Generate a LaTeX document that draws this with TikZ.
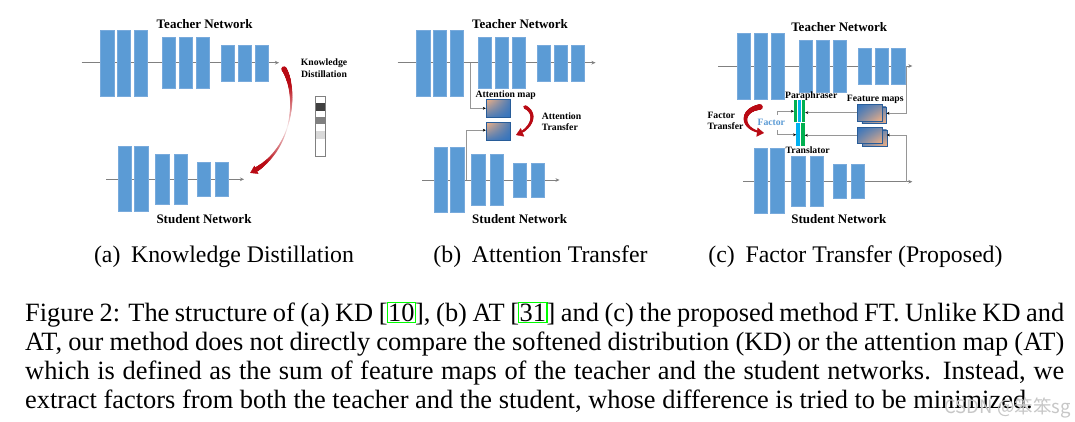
\documentclass[tikz,border=0pt]{standalone}
\usepackage{fontspec}
\setmainfont{Liberation Serif}
\newfontfamily\cjkfont{Noto Sans CJK SC}
\usetikzlibrary{arrows.meta,decorations.markings,shadings}
\definecolor{blockblue}{RGB}{91,155,213}
\definecolor{blockedge}{RGB}{120,170,220}
\definecolor{linegray}{RGB}{128,128,128}
\definecolor{branchgray}{RGB}{150,150,150}
\definecolor{arrowred}{RGB}{185,10,20}
\definecolor{peach}{RGB}{244,177,131}
\definecolor{mapblue}{RGB}{50,115,190}
\definecolor{fgreen}{RGB}{0,176,80}
\definecolor{fblue}{RGB}{0,176,240}
\definecolor{factorblue}{RGB}{91,155,213}
\definecolor{linkgreen}{RGB}{0,255,0}
\newcommand\gb[1]{{\setlength\fboxsep{0.3pt}\setlength\fboxrule{1.1pt}\color{linkgreen}\kern-0.8pt\fbox{\color{black}#1}\kern-0.8pt}}
\newcommand\teacherblocks[3]{%
 \begin{scope}[shift={(#2,#3)}]
 \foreach \x [count=\i] in {107.3,124,141}{\node[blk,minimum height=66pt] (#1x\i) at (\x,63.3) {};}
 \foreach \x [count=\i] in {168.8,185.8,202.8}{\node[blk,minimum height=51.7pt] (#1y\i) at (\x,62.85) {};}
 \foreach \x [count=\i] in {227.8,245,261.7}{\node[blk,minimum height=35.7pt] (#1z\i) at (\x,63.15) {};}
 \end{scope}}
\newcommand\studentblocks[3]{%
 \begin{scope}[shift={(#2,#3)}]
 \foreach \x [count=\i] in {124.8,141.3}{\node[blk,minimum height=64.6pt] (#1x\i) at (\x,179) {};}
 \foreach \x [count=\i] in {162.2,180.5}{\node[blk,minimum height=50.3pt] (#1y\i) at (\x,179.15) {};}
 \foreach \x [count=\i] in {203.8,221.8}{\node[blk,minimum height=34.4pt] (#1z\i) at (\x,179.5) {};}
 \end{scope}}
% tapered red arrow: #1 radius expr (in \ts, \tu), #2 percent expr, #3 end fraction, #4 path
\newcommand\taperarrow[4]{%
 \path[decoration={markings,
   mark=between positions 0 and #3 step 0.4pt with {%
     \pgfmathsetmacro\ts{\pgfkeysvalueof{/pgf/decoration/mark info/distance from start}/\pgfdecoratedpathlength}%
     \pgfmathsetmacro\tu{abs(2*\ts-1)}%
     \pgfmathsetmacro\tr{#1}%
     \pgfmathsetmacro\tp{#2}%
     \fill[arrowred!\tp!white] (0,0) circle (\tr pt);},
   mark=at position 1 with {\arrow[arrowred]{Triangle[width=9pt,length=7pt]}}},
   postaction={decorate}] #4;}
\tikzset{
 blk/.style={draw=blockedge, fill=blockblue, line width=0.5pt, inner sep=0pt, minimum width=13.3pt},
 netline/.style={draw=linegray, line width=0.8pt, -{Stealth[length=4pt,width=3.6pt]}},
 branch/.style={draw=branchgray, line width=0.6pt, -{Stealth[length=3pt,width=2.8pt,black]}},
 title/.style={font=\fontsize{13}{15}\selectfont\bfseries, inner sep=0pt, anchor=base},
 lbl/.style={font=\fontsize{9.7}{11.5}\selectfont\bfseries, inner sep=0pt, anchor=base},
 amap/.style={draw=mapblue!80!black, line width=0.4pt, inner sep=0pt, minimum width=24pt, minimum height=18pt,
   upper left=peach, upper right=mapblue!85!peach, lower left=mapblue!85!peach, lower right=mapblue},
 fmap/.style={draw=mapblue!80!black, line width=0.4pt, inner sep=0pt, minimum width=24.4pt, minimum height=16.5pt,
   upper left=mapblue, upper right=mapblue!65!peach, lower left=mapblue!65!peach, lower right=peach},
 subcap/.style={font=\fontsize{23.8}{28}\selectfont, inner sep=0pt, anchor=base},
 capline/.style={font=\fontsize{26.4}{29}\selectfont, inner sep=0pt, anchor=base west},
}
\begin{document}
\begin{tikzpicture}[x=1pt,y=-1pt]
\useasboundingbox (0,0) rectangle (1075,422);
\fill[white] (0,0) rectangle (1075,422);

% ================= panel (a) =================
\coordinate (aTin) at (81.7,62.7); \coordinate (aTout) at (279,62.7);
\draw[netline] (aTin) -- (aTout);
\teacherblocks{aT}{0}{0}
\coordinate (aSin) at (106,179.3); \coordinate (aSout) at (244,179.3);
\draw[netline] (aSin) -- (aSout);
\studentblocks{aS}{0}{0}
\node[title] (aTt) at (204.7,28.3) {Teacher Network};
\node[title] (aSt) at (204,223.3) {Student Network};
\node[lbl] (kd1) at (324,65.7) {Knowledge};
\node[lbl] (kd2) at (324,77.3) {Distillation};
% softened distribution
\node[draw=linegray, fill=white, line width=0.6pt, minimum width=10.4pt, minimum height=60pt, inner sep=0pt] (dist) at (320.5,126.3) {};
\fill[black!75] (315.6,103.3) rectangle (325.4,111);
\fill[black!50] (315.6,116.7) rectangle (325.4,124.3);
\fill[black!15] (315.6,131) rectangle (325.4,138.7);
\coordinate (aR1) at (284,69); \coordinate (aR2) at (250,173);
\taperarrow{0.35+2.3*pow(\tu,1.3)}{min(100,8+130*\tu)}{0.94}{(aR1) .. controls (297,90) and (296,150) .. (aR2)}

% ================= panel (b) =================
\coordinate (bTin) at (397.7,62.7); \coordinate (bTout) at (595.5,62.7);
\draw[netline] (bTin) -- (bTout);
\coordinate (bSin) at (422.3,180); \coordinate (bSout) at (559.5,180);
\draw[netline] (bSin) -- (bSout);
\coordinate (bTbr) at (470,62.7); \coordinate (bSbr) at (466.7,180);
\node[amap] (bmap1) at (498,108.3) {};
\node[amap, minimum height=17.7pt] (bmap2) at (498,131.2) {};
\draw[branch] (bTbr) |- (bmap1.west);
\draw[branch] (bSbr) |- ([yshift=1pt]bmap2.west);
\teacherblocks{bT}{316}{0}
\studentblocks{bS}{316}{0.5}
\node[title] (bTt) at (520,28.3) {Teacher Network};
\node[title] (bSt) at (519.7,223.3) {Student Network};
\node[lbl] (amt) at (505.7,98) {Attention map};
\node[lbl, anchor=base west] (at1) at (541.7,119.4) {Attention};
\node[lbl, anchor=base west] (at2) at (541.7,131) {Transfer};
\coordinate (bR1) at (525,107); \coordinate (bR2) at (516,135);
\taperarrow{1.0+0.9*(1-\ts)}{100}{0.8}{(bR1) .. controls (537,113) and (533,128) .. (bR2)}

% ================= panel (c) =================
\coordinate (cTin) at (718.3,66); \coordinate (cTout) at (912.3,66);
\draw[netline] (cTin) -- (cTout);
\coordinate (cSin) at (743.3,181.7); \coordinate (cSout) at (912.3,181.7);
\draw[netline] (cSin) -- (cSout);
\teacherblocks{cT}{636.6}{3.3}
\studentblocks{cS}{636}{2}
\node[title] (cTt) at (839.2,31.6) {Teacher Network};
\node[title] (cSt) at (838.8,223.3) {Student Network};
% feature maps
\node[fmap] (cfm1b) at (874,115.2) {};
\node[fmap] (cfm1) at (869.5,112.6) {};
\node[fmap] (cfm2b) at (874.5,138) {};
\node[fmap] (cfm2) at (869.5,135.3) {};
\coordinate (cTbr) at (906.7,66); \coordinate (cSbr) at (906.7,181.7);
\draw[branch] (cTbr) |- ([yshift=1.9pt]cfm1b.east);
\draw[branch] (cSbr) |- ([yshift=3pt]cfm2b.east);
% paraphraser and translator
\fill[white] (793.3,100) rectangle (805.6,122.5);
\fill[fgreen] (794,100.5) rectangle (797.3,122);
\fill[fblue] (797.9,100.5) rectangle (801.1,122);
\fill[fgreen] (801.7,100.5) rectangle (805,122);
\node[minimum width=11pt, minimum height=21.5pt, inner sep=0pt] (para) at (799.5,111.25) {};
\fill[white] (795.7,123) rectangle (805.5,146.5);
\fill[fblue] (796.3,123.5) rectangle (799.9,146);
\fill[fgreen] (800.8,123.5) rectangle (804.6,146);
\node[minimum width=8.3pt, minimum height=22.5pt, inner sep=0pt] (trans) at (800.45,134.75) {};
\draw[branch] (cfm1.west) -- (cfm1.west -| para.east);
\draw[branch] (cfm2.west) -- (cfm2.west -| trans.east);
\coordinate (pstub) at (777.3,115); \coordinate (tstub) at (777.3,130.5);
\draw[branch] (pstub) |- (para.west);
\draw[branch] (tstub) |- (trans.west);
\node[lbl] (part) at (811.2,98.5) {Paraphraser};
\node[lbl] (fmt) at (875.3,101.5) {Feature maps};
\node[lbl] (trt) at (807.7,153.5) {Translator};
\node[lbl, text=factorblue] (fct) at (771.3,125.8) {Factor};
\node[lbl, anchor=base west] (ft1) at (707.3,118.7) {Factor};
\node[lbl, anchor=base west] (ft2) at (707.3,130) {Transfer};
\coordinate (cR1) at (760,107); \coordinate (cR2) at (764,133);
\taperarrow{0.7+2.1*(1-\ts)}{100}{0.86}{(cR1) .. controls (740,110) and (740,130) .. (cR2)}

% ================= captions =================
\node[subcap] (sca) at (224,262) {(a)\hspace{0.45em}Knowledge Distillation};
\node[subcap] (scb) at (540.5,262) {(b)\hspace{0.45em}Attention Transfer};
\node[subcap] (scc) at (855.5,262) {(c)\hspace{0.45em}Factor Transfer (Proposed)};
\node[capline] (cap1) at (25,321) {\makebox[1039pt][s]{Figure 2: The structure of (a) KD [\gb{10}], (b) AT [\gb{31}] and (c) the proposed method FT. Unlike KD and}};
\node[capline] (cap2) at (25,350) {\makebox[1039pt][s]{AT, our method does not directly compare the softened distribution (KD) or the attention map (AT)}};
\node[capline] (cap3) at (25,379) {\makebox[1039pt][s]{which is defined as the sum of feature maps of the teacher and the student networks. Instead, we}};
\node[capline] (cap4) at (25,408) {extract factors from both the teacher and the student, whose difference is tried to be minimized.};
\node[anchor=base east, inner sep=0pt, text=black!22, font=\cjkfont\fontsize{18.5}{20}\selectfont] (wm) at (1071,413) {CSDN @笨笨sg};
\end{tikzpicture}
\end{document}
